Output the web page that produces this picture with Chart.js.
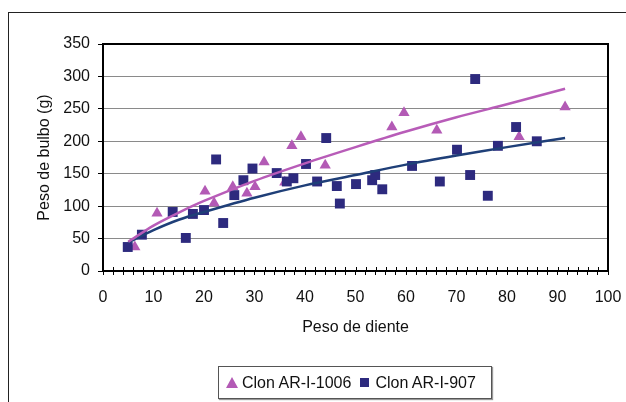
<!DOCTYPE html>
<html>
<head>
<meta charset="utf-8">
<script src="https://cdn.jsdelivr.net/npm/chart.js@4.4.1/dist/chart.umd.min.js"></script>
<style>
    html, body { margin: 0; padding: 0; background: #fff; overflow: hidden; }
    #wrap { position: relative; width: 626px; height: 402px; overflow: hidden; }
    #outer { position: absolute; left: 8px; top: 12px; width: 700px; height: 500px; border: 1px solid #222; }
    #chart { position: absolute; left: 0; top: 0; }
    #legend {
        position: absolute; left: 218px; top: 366px; width: 272px; height: 31px;
        border: 1px solid #555; box-shadow: 1px 1px 1px #999; background: #fff;
        font-family: "Liberation Sans", Arial, sans-serif; font-size: 16px; color: #111;
        display: flex; align-items: center;
    }
    .tri { width: 0; height: 0; border-left: 6px solid transparent; border-right: 6px solid transparent;
           border-bottom: 11px solid #b35ab5; margin: 0 4px 0 7px; }
    .sq { width: 9px; height: 9px; background: #2d2a7e; margin: 0 6px 0 9px; }
</style>
</head>
<body>
<div id="wrap">
    <div id="outer"></div>
    <canvas id="chart" width="626" height="402"></canvas>
    <div id="legend">
        <span class="tri"></span><span>Clon AR-I-1006</span>
        <span class="sq"></span><span>Clon AR-I-907</span>
    </div>
</div>
<script>
// Clon AR-I-1006 (triangles)
const diente1006 = [6.3, 10.7, 20.2, 22, 25.7, 28.5, 30.1, 31.9, 36, 37.4, 39.2, 44, 57.2, 59.6, 66.1, 82.4, 91.5];
const bulbo1006 = [37, 89, 123, 105, 130, 120, 130, 168, 137, 193, 207, 163, 222, 244, 217, 207, 253];

// Clon AR-I-907 (squares)
const diente907 = [4.9, 7.7, 13.8, 16.4, 17.8, 20, 22.4, 23.8, 26, 27.8, 29.6, 34.4, 36.4, 37.7, 40.2, 42.4,
    44.2, 46.3, 46.9, 50.1, 53.3, 53.9, 55.3, 61.2, 66.7, 70.1, 72.7, 73.7, 76.2, 78.2, 81.8, 85.9];
const bulbo907 = [37, 56, 91, 51, 88, 94, 172, 74, 117, 140, 158, 151, 138, 143, 165, 138,
    205, 131, 104, 134, 140, 148, 126, 162, 138, 187, 148, 296, 116, 193, 222, 200];

// trend lines
const trendX = [5, 10, 15, 20, 30, 40, 50, 60, 70, 80, 91.5];
const trend1006 = [45, 70, 90, 108, 139, 166, 191, 215, 237, 257, 281];
const trend907 = [44, 63, 79, 91, 113, 132, 148, 164, 178, 191, 205];

const xTicks = [0, 10, 20, 30, 40, 50, 60, 70, 80, 90, 100];

const toPoints = (xs, ys) => xs.map((x, i) => ({ x: x, y: ys[i] }));

// draws the inner half of the x ticks and the box round the plot
const framePlugin = {
    id: 'frame',
    afterDraw(chart) {
        const { ctx, chartArea: a, scales: { x } } = chart;
        ctx.save();
        ctx.strokeStyle = '#000';
        ctx.lineWidth = 1;
        ctx.beginPath();
        x.ticks.forEach(t => {
            const px = Math.round(x.getPixelForValue(t.value)) + 0.5;
            ctx.moveTo(px, a.bottom);
            ctx.lineTo(px, a.bottom - 4);
        });
        ctx.stroke();
        ctx.lineWidth = 2;
        ctx.strokeRect(a.left, a.top, a.right - a.left, a.bottom - a.top);
        ctx.restore();
    }
};

const font = { family: '"Liberation Sans", Arial, sans-serif', size: 16 };

new Chart(document.getElementById('chart'), {
    type: 'scatter',
    data: {
        datasets: [
            {
                label: 'trend 1006', type: 'line', data: toPoints(trendX, trend1006),
                borderColor: '#b85cb8', borderWidth: 2.5, pointRadius: 0, tension: 0.3, order: 0
            },
            {
                label: 'trend 907', type: 'line', data: toPoints(trendX, trend907),
                borderColor: '#1f3f78', borderWidth: 2.5, pointRadius: 0, tension: 0.3, order: 1
            },
            {
                label: 'Clon AR-I-907', data: toPoints(diente907, bulbo907),
                pointStyle: 'rect', pointRadius: 7, backgroundColor: '#2d2a7e', borderColor: '#2d2a7e',
                borderWidth: 0, order: 2
            },
            {
                label: 'Clon AR-I-1006', data: toPoints(diente1006, bulbo1006),
                pointStyle: 'triangle', pointRadius: 6.5, backgroundColor: '#b35ab5', borderColor: '#b35ab5',
                borderWidth: 0, order: 3
            }
        ]
    },
    options: {
        responsive: false,
        animation: false,
        devicePixelRatio: 1,
        layout: { padding: { left: 0, top: 44, right: 18, bottom: 0 } },
        plugins: { legend: { display: false }, tooltip: { enabled: false } },
        scales: {
            x: {
                type: 'linear', min: 0, max: 100,
                afterFit: s => { s.height = 131; s.paddingLeft = 0; s.paddingRight = 0; },
                border: { color: '#000', width: 2 },
                grid: { drawOnChartArea: false, tickLength: 4, tickColor: '#000' },
                ticks: {
                    stepSize: 2, autoSkip: false, maxRotation: 0, padding: 13, color: '#111', font: font,
                    callback: v => (xTicks.includes(v) ? String(v) : '')
                },
                title: { display: true, text: 'Peso de diente', color: '#111', font: font, padding: { top: 0, bottom: 65 } }
            },
            y: {
                min: 0, max: 350,
                afterFit: s => { s.width = 103; s.paddingTop = 0; s.paddingBottom = 0; },
                border: { color: '#000', width: 2 },
                grid: { color: '#8a8a8a', lineWidth: 1, tickLength: 5, tickColor: '#000' },
                ticks: { stepSize: 50, padding: 8, color: '#111', font: font },
                title: { display: true, text: 'Peso de bulbo (g)', color: '#111', font: font, padding: { top: 35, bottom: 0 } }
            }
        }
    },
    plugins: [framePlugin]
});
</script>
</body>
</html>
